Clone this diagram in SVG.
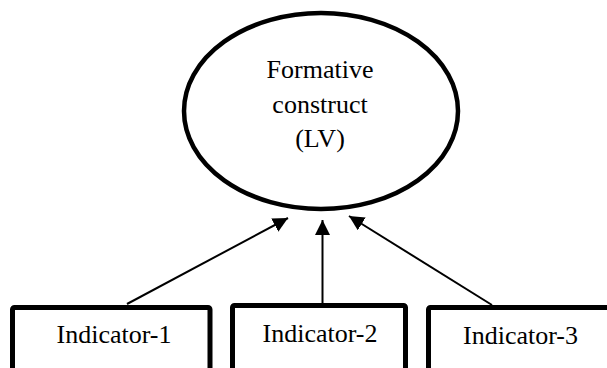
<svg xmlns="http://www.w3.org/2000/svg" width="607" height="368" viewBox="0 0 607 368">
  <style>
    .shape { fill: #ffffff; stroke: #000000; }
    .lv { stroke-width: 4.5; }
    .box { stroke-width: 5; stroke-linejoin: round; }
    .label { font-family: "Liberation Serif", "Times New Roman", serif; font-size: 26px; fill: #000000; text-anchor: middle; }
    .edge { stroke: #000000; stroke-width: 2; fill: none; marker-end: url(#head); }
  </style>
  <defs>
    <marker id="head" markerUnits="userSpaceOnUse" markerWidth="16" markerHeight="16" viewBox="0 0 16 16" refX="15" refY="7.5" orient="auto">
      <path d="M0,0 L15,7.5 L0,15 Z" fill="#000000"/>
    </marker>
  </defs>

  <!-- latent variable -->
  <g id="construct">
    <ellipse class="shape lv" cx="321" cy="111" rx="137" ry="98"/>
    <text class="label" x="320" y="78">Formative</text>
    <text class="label" x="320" y="113">construct</text>
    <text class="label" x="320" y="147">(LV)</text>
  </g>

  <!-- indicators -->
  <g id="indicator-1">
    <rect class="shape box" x="12.5" y="307.5" width="197.5" height="80" rx="2"/>
    <text class="label" x="114" y="343">Indicator-1</text>
  </g>
  <g id="indicator-2">
    <rect class="shape box" x="232.5" y="305.5" width="173" height="80" rx="2"/>
    <text class="label" x="320" y="342">Indicator-2</text>
  </g>
  <g id="indicator-3">
    <rect class="shape box" x="428.5" y="307.5" width="200" height="80" rx="2"/>
    <text class="label" x="520.5" y="344">Indicator-3</text>
  </g>

  <!-- formative paths: indicators point to the construct -->
  <g id="connectors">
    <line class="edge" x1="127" y1="304" x2="288" y2="218"/>
    <line class="edge" x1="322.5" y1="303" x2="322.5" y2="220"/>
    <line class="edge" x1="492" y1="305" x2="349" y2="216"/>
  </g>
</svg>
